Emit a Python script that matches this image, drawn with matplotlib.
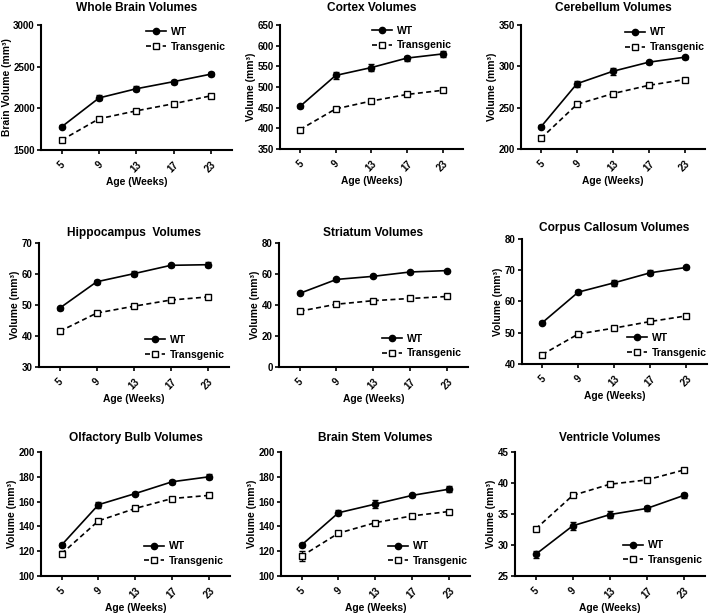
import matplotlib
matplotlib.use("Agg")
import matplotlib.pyplot as plt
import numpy as np

plt.rcParams['font.family'] = ['Liberation Sans', 'DejaVu Sans']
plt.rcParams['font.weight'] = 'bold'

ages = ["5", "9", "13", "17", "23"]

titles = ["Whole Brain Volumes", "Cortex Volumes", "Cerebellum Volumes",
          "Hippocampus  Volumes", "Striatum Volumes", "Corpus Callosum Volumes",
          "Olfactory Bulb Volumes", "Brain Stem Volumes", "Ventricle Volumes"]

ylabels = ["Brain Volume (mm³)"] + ["Volume (mm³)"] * 8

wt_whole = [1780, 2125, 2235, 2320, 2410]
tg_whole = [1620, 1875, 1970, 2055, 2150]
wt_cortex = [453, 528, 547, 570, 580]
tg_cortex = [397, 447, 466, 482, 492]
wt_cereb = [227, 279, 294, 305, 311]
tg_cereb = [213, 254, 267, 277, 284]
wt_hippo = [49.0, 57.5, 60.1, 62.8, 63.0]
tg_hippo = [41.5, 47.4, 49.6, 51.6, 52.6]
wt_stri = [47.5, 56.5, 58.5, 61.3, 62.2]
tg_stri = [36.0, 40.5, 42.8, 44.2, 45.5]
wt_cc = [53.2, 63.0, 66.0, 69.2, 70.9]
tg_cc = [43.0, 49.6, 51.5, 53.6, 55.4]
wt_olf = [125, 157.5, 166.5, 176, 180]
tg_olf = [118, 144.5, 154.5, 162.5, 165]
wt_stem = [125, 151, 158, 165, 170]
tg_stem = [116, 134.5, 143, 148.5, 152]
wt_vent = [28.5, 33.1, 34.9, 35.9, 38.0]
tg_vent = [32.6, 38.0, 39.8, 40.5, 42.1]

wt_err = [[20, 30, 30, 25, 25], [4, 8, 8, 6, 8], [2, 3.5, 4, 2, 2],
          [0.5, 0.6, 0.8, 0.5, 0.8], [0.7, 0.7, 0.7, 0.7, 0.7],
          [0.4, 0.7, 1.0, 0.8, 0.6], [1.5, 2.5, 1.5, 1.5, 2],
          [1.5, 2, 3, 1.5, 2.5], [0.6, 0.6, 0.6, 0.4, 0.4]]
tg_err = [[20, 20, 20, 20, 25], [4, 4, 4, 4, 4], [2, 2, 2, 2, 2],
          [0.5, 0.5, 0.5, 0.5, 0.5], [0.7, 0.7, 0.7, 0.7, 0.7],
          [0.4, 0.4, 0.4, 0.4, 0.4], [2, 1.5, 1.5, 1.5, 1.5],
          [4, 1.5, 1.5, 1.5, 1.5], [0.3, 0.3, 0.3, 0.3, 0.3]]

wt_all = [wt_whole, wt_cortex, wt_cereb, wt_hippo, wt_stri, wt_cc, wt_olf, wt_stem, wt_vent]
tg_all = [tg_whole, tg_cortex, tg_cereb, tg_hippo, tg_stri, tg_cc, tg_olf, tg_stem, tg_vent]

yticks = [[1500, 2000, 2500, 3000], [350, 400, 450, 500, 550, 600, 650],
          [200, 250, 300, 350], [30, 40, 50, 60, 70], [0, 20, 40, 60, 80],
          [40, 50, 60, 70, 80], [100, 120, 140, 160, 180, 200],
          [100, 120, 140, 160, 180, 200], [25, 30, 35, 40, 45]]

# axes boxes in pixels: left, top, right, bottom
boxes = [(41, 25, 232, 150), (280, 25, 463, 149), (521, 25, 705, 149),
         (39, 243, 229, 367), (279, 243, 468, 367), (522, 239, 707, 364),
         (41, 452, 230, 576), (281, 452, 470, 576), (515, 452, 705, 576)]
title_pads = [10, 10, 10, 5, 5, 5.5, 8, 8, 8]
leg_locs = ['upper right'] * 3 + ['lower right'] * 6
leg_anchor = [(0.97, 0.985), (0.94, 0.995), (1.0, 0.98),
              (0.98, 0.06), (0.97, 0.07), (1.0, 0.05),
              (0.97, 0.08), (0.99, 0.08), (0.99, 0.09)]

W, H = 712, 614
fig = plt.figure(figsize=(W / 100, H / 100), dpi=100)
x = np.arange(len(ages))

for i in range(9):
    l, t, r, b = boxes[i]
    ax = fig.add_axes([l / W, (H - b) / H, (r - l) / W, (b - t) / H])
    ax.errorbar(x, wt_all[i], yerr=wt_err[i], color='black', lw=1.2,
                marker='o', ms=4.5, mfc='black', mec='black',
                capsize=2, elinewidth=1, capthick=1, label='WT', zorder=3)
    ax.errorbar(x, tg_all[i], yerr=tg_err[i], color='black', lw=1.2,
                ls=(0, (3, 2)), marker='s', ms=5, mfc='white', mec='black',
                mew=1, capsize=2, elinewidth=1, capthick=1,
                label='Transgenic', zorder=3)
    ax.set_xlim(-0.56, 4.57)
    ax.set_ylim(yticks[i][0], yticks[i][-1])
    ax.set_yticks(yticks[i])
    ax.set_xticks(x)
    ax.set_xticklabels(ages, rotation=45, ha='center')
    ax.tick_params(axis='both', labelsize=7, width=1.2, length=3,
                   direction='out', pad=1.5)
    ax.tick_params(axis='x', pad=4)
    for lab in ax.get_xticklabels() + ax.get_yticklabels():
        lab.set_fontweight('bold')
    ax.spines['top'].set_visible(False)
    ax.spines['right'].set_visible(False)
    ax.spines['left'].set_linewidth(1.5)
    ax.spines['bottom'].set_linewidth(1.5)
    ax.set_title(titles[i], fontsize=8.6, fontweight='bold', pad=title_pads[i])
    ax.set_xlabel("Age (Weeks)", fontsize=7.4, fontweight='bold', labelpad=2)
    ax.set_ylabel(ylabels[i], fontsize=7.4, fontweight='bold', labelpad=1)
    handles, labels = ax.get_legend_handles_labels()
    handles = [h[0] for h in handles]
    ax.legend(handles, labels, loc=leg_locs[i], bbox_to_anchor=leg_anchor[i],
              frameon=False, handlelength=1.9, handletextpad=0.5,
              labelspacing=0.45, borderpad=0, borderaxespad=0,
              prop={'weight': 'bold', 'size': 7.5})

fig.savefig("out.png", dpi=100)
